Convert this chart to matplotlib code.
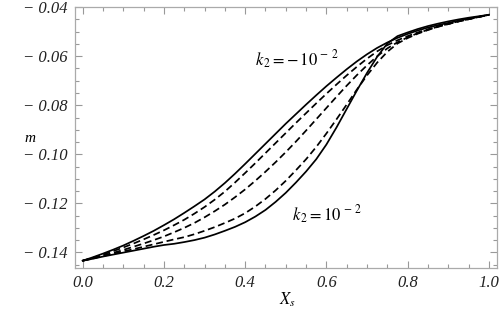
import matplotlib
matplotlib.use("Agg")
import matplotlib.pyplot as plt
from matplotlib.font_manager import FontProperties

xs = [0.000, 0.025, 0.050, 0.075, 0.100, 0.125, 0.150, 0.175, 0.200, 0.225,
      0.250, 0.275, 0.300, 0.325, 0.350, 0.375, 0.400, 0.425, 0.450, 0.475,
      0.500, 0.525, 0.550, 0.575, 0.600, 0.625, 0.650, 0.675, 0.700, 0.725,
      0.750, 0.775, 0.800, 0.825, 0.850, 0.875, 0.900, 0.925, 0.950, 0.975, 1.000]

# k2 = -1e-2 (upper solid)
m_neg = [-0.1434, -0.1420, -0.1405, -0.1389, -0.1372, -0.1353, -0.1333, -0.1312, -0.1289, -0.1265,
         -0.1239, -0.1212, -0.1184, -0.1152, -0.1117, -0.1079, -0.1039, -0.0998, -0.0957, -0.0916,
         -0.0875, -0.0836, -0.0797, -0.0759, -0.0722, -0.0687, -0.0653, -0.0621, -0.0592, -0.0566,
         -0.0544, -0.0525, -0.0509, -0.0495, -0.0483, -0.0473, -0.0464, -0.0455, -0.0447, -0.0439, -0.0431]
# intermediate (dashed)
m_d1 = [-0.1434, -0.1422, -0.1409, -0.1395, -0.1380, -0.1364, -0.1347, -0.1329, -0.1310, -0.1289,
        -0.1267, -0.1242, -0.1215, -0.1185, -0.1152, -0.1115, -0.1076, -0.1036, -0.0995, -0.0954,
        -0.0913, -0.0872, -0.0832, -0.0792, -0.0753, -0.0715, -0.0678, -0.0643, -0.0610, -0.0580,
        -0.0555, -0.0535, -0.0518, -0.0503, -0.0490, -0.0478, -0.0468, -0.0458, -0.0449, -0.0440, -0.0431]
m_d2 = [-0.1434, -0.1424, -0.1413, -0.1402, -0.1390, -0.1377, -0.1364, -0.1350, -0.1335, -0.1318,
        -0.1300, -0.1280, -0.1257, -0.1232, -0.1205, -0.1175, -0.1143, -0.1108, -0.1071, -0.1032,
        -0.0991, -0.0948, -0.0903, -0.0857, -0.0811, -0.0765, -0.0720, -0.0677, -0.0637, -0.0600,
        -0.0568, -0.0543, -0.0523, -0.0506, -0.0492, -0.0479, -0.0468, -0.0458, -0.0449, -0.0440, -0.0431]
m_d3 = [-0.1434, -0.1425, -0.1415, -0.1406, -0.1396, -0.1387, -0.1377, -0.1367, -0.1357, -0.1347,
        -0.1338, -0.1326, -0.1312, -0.1297, -0.1280, -0.1262, -0.1240, -0.1213, -0.1182, -0.1147,
        -0.1108, -0.1065, -0.1020, -0.0970, -0.0915, -0.0857, -0.0797, -0.0736, -0.0678, -0.0626,
        -0.0582, -0.0548, -0.0526, -0.0508, -0.0493, -0.0480, -0.0469, -0.0458, -0.0449, -0.0440, -0.0431]
# k2 = 1e-2 (lower solid)
m_pos = [-0.1434, -0.1426, -0.1417, -0.1409, -0.1401, -0.1393, -0.1385, -0.1377, -0.1370, -0.1365,
         -0.1358, -0.1350, -0.1340, -0.1327, -0.1312, -0.1296, -0.1277, -0.1254, -0.1227, -0.1194,
         -0.1157, -0.1115, -0.1070, -0.1020, -0.0960, -0.0890, -0.0815, -0.0740, -0.0668, -0.0602,
         -0.0548, -0.0518, -0.0503, -0.0489, -0.0477, -0.0467, -0.0458, -0.0450, -0.0443, -0.0437, -0.0431]

xticks = [0.0, 0.2, 0.4, 0.6, 0.8, 1.0]
xticklabels = ["0.0", "0.2", "0.4", "0.6", "0.8", "1.0"]
yticks = [-0.14, -0.12, -0.10, -0.08, -0.06, -0.04]
yticklabels = ["\u2212 0.14", "\u2212 0.12", "\u2212 0.10", "\u2212 0.08", "\u2212 0.06", "\u2212 0.04"]

plt.rcParams["mathtext.fontset"] = "stix"
fp_tick = FontProperties(family="Liberation Serif", style="italic", size=12)
fp_lab = FontProperties(family="Liberation Serif", style="italic", size=11)

fig = plt.figure(figsize=(5.0, 3.17), dpi=100)
ax = fig.add_axes([75/500, 1-268.3/317, 422/500, 261.6/317])

lw = 1.25
ax.plot(xs, m_neg, color="black", lw=lw)
for ys in (m_d1, m_d2, m_d3):
    ax.plot(xs, ys, color="black", lw=lw, dashes=(4, 2.2))
ax.plot(xs, m_pos, color="black", lw=lw)

ax.set_xlim(-0.019, 1.02)
ax.set_ylim(-0.1465, -0.0398)

ax.set_xticks(xticks)
ax.set_xticklabels(xticklabels, fontproperties=fp_tick, color="#222222")
ax.set_yticks(yticks)
ax.set_yticklabels(yticklabels, fontproperties=fp_tick, color="#222222")
ax.set_xticks([i * 0.05 for i in range(21)], minor=True)
ax.set_yticks([-0.145 + i * 0.005 for i in range(21)], minor=True)

ax.tick_params(which="both", direction="in", top=True, right=True,
               color="#999999", width=0.8)
ax.tick_params(which="major", length=5, pad=5)
ax.tick_params(which="minor", length=3)
for s in ax.spines.values():
    s.set_color("#aaaaaa")
    s.set_linewidth(0.9)

ax.text(0.424, -0.0615, r"$k_{\,2} = -\,\mathit{10}^{\,-\,2}$", fontsize=12,
        va="center", ha="left")
ax.text(0.515, -0.1248, r"$k_{\,2} = \mathit{10}^{\,-\,2}$", fontsize=12,
        va="center", ha="left")

fig.text(30/500, 1-139/317, "m", fontproperties=fp_lab,
         ha="center", va="center")
fig.text(287/500, 1-300/317, r"$X_s$", fontsize=12, ha="center", va="center")

fig.savefig("out.png", dpi=100)
